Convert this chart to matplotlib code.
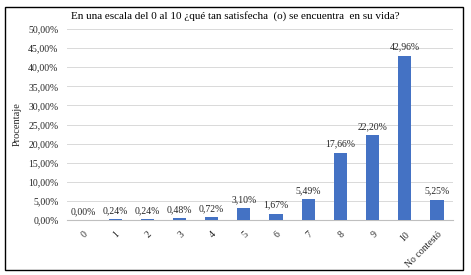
import matplotlib.pyplot as plt
from matplotlib.patches import Rectangle
from matplotlib.ticker import FuncFormatter

categories = ['0', '1', '2', '3', '4', '5', '6', '7', '8', '9', '10', 'No contestó']
values = [0.00, 0.24, 0.24, 0.48, 0.72, 3.10, 1.67, 5.49, 17.66, 22.20, 42.96, 5.25]

plt.rcParams['font.family'] = ['Liberation Serif', 'DejaVu Serif']

fig = plt.figure(figsize=(4.71, 2.75), dpi=100)
# outer frame around the whole chart
fig.patches.append(Rectangle((0.0106, 0.018), 0.9724, 0.957, transform=fig.transFigure,
                             fill=False, edgecolor='black', linewidth=1.0))

ax = fig.add_axes([0.142, 0.2, 0.82, 0.6945])
x = range(len(categories))
ax.bar(x, values, width=0.41, color='#4472C4', zorder=3)

for xi, v in zip(x, values):
    lbl = ('%.2f%%' % v).replace('.', ',')
    ax.annotate(lbl, (xi, v), xytext=(0, 3), textcoords='offset points',
                ha='center', va='bottom', fontsize=7, color='#262626')

ax.set_ylim(0, 50)
ax.set_xlim(-0.5, len(categories) - 0.5)
ax.set_yticks(range(0, 51, 5))
ax.yaxis.set_major_formatter(FuncFormatter(lambda v, p: ('%.2f%%' % v).replace('.', ',')))
ax.grid(axis='y', color='#d9d9d9', linewidth=0.7, zorder=0)
for s in ['top', 'right', 'left']:
    ax.spines[s].set_visible(False)
ax.spines['bottom'].set_color('#bfbfbf')
ax.tick_params(axis='both', length=0, labelsize=7, colors='#262626')
ax.tick_params(axis='y', pad=6)
ax.set_xticks(list(x))
ax.set_xticklabels(categories, rotation=45, ha='right', va='top', rotation_mode='anchor')
ax.tick_params(axis='x', pad=7)

ax.set_ylabel('Procentaje', fontsize=7.5, color='#262626')
ax.yaxis.set_label_coords(-0.118, 0.5)

fig.text(0.5, 0.94, 'En una escala del 0 al 10 ¿qué tan satisfecha  (o) se encuentra  en su vida?',
         ha='center', va='center', fontsize=8)

fig.savefig('out.png', dpi=100)
